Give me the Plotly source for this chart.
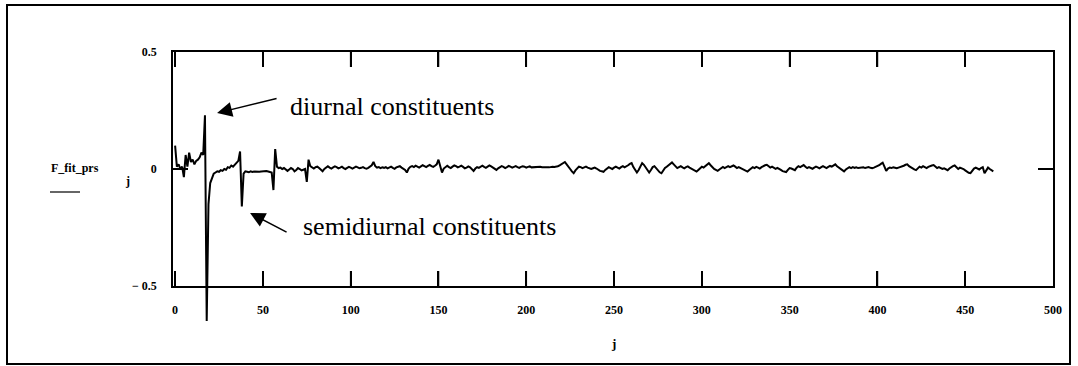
import plotly.graph_objects as go

# ---- data -------------------------------------------------------------
F_fit_prs = [
    # j 0-40
    0.100, 0.010, 0.020, 0.000, 0.010, -0.035, 0.060, 0.010, 0.070, 0.030,
    0.040, 0.020, 0.035, 0.040, 0.050, 0.070, 0.060, 0.230, -0.650, -0.150,
    -0.060, -0.035, -0.020, -0.015, -0.010, -0.012, -0.005, -0.008, 0.000, -0.003,
    0.008, 0.005, 0.015, 0.010, 0.020, 0.025, 0.035, 0.075, -0.160, -0.020,
    -0.010,
    # j 41-55
    -0.012, -0.014, -0.010, -0.013, -0.011, -0.012, -0.010, -0.012, -0.011, -0.010,
    -0.012, -0.009, -0.011, -0.013, -0.015,
    # j 56-57
    -0.090, 0.085,
    # j 58-74
    0.010, 0.004, 0.006, 0.000, 0.004, -0.004, -0.008, -0.002, 0.004, 0.000,
    -0.010, -0.004, 0.004, 0.000, -0.006, -0.003, 0.000,
    # j 75-76
    -0.055, 0.040,
    # j 77-466
    0.012, 0.006, 0.002, 0.008, 0.010, 0.004, -0.002, -0.010, 0.000, 0.008,
    0.012, 0.006, 0.002, 0.007, 0.011, 0.008, 0.003, 0.006, 0.010, 0.004,
    0.000, 0.005, 0.009, 0.006, 0.002, 0.006, 0.010, 0.007, 0.003, 0.005,
    0.008, 0.004, 0.001, 0.005, 0.010, 0.016, 0.030, 0.012, 0.006, 0.008,
    0.004, 0.007, 0.005, 0.008, 0.003, 0.006, 0.010, 0.005, 0.001, 0.007,
    0.010, 0.012, 0.006, 0.002, -0.004, -0.015, 0.002, 0.009, 0.012, 0.008,
    0.014, 0.010, 0.006, 0.011, 0.016, 0.012, 0.008, 0.013, 0.017, 0.012,
    0.009, 0.014, 0.020, 0.040, 0.005, -0.015, 0.002, 0.010, 0.014, 0.008,
    0.004, 0.010, 0.015, 0.012, 0.007, 0.010, 0.014, 0.009, 0.003, 0.006,
    0.011, 0.007, 0.000, -0.008, 0.002, 0.008, 0.005, 0.010, 0.014, 0.009,
    0.005, 0.010, 0.015, 0.011, 0.006, 0.002, -0.004, 0.003, 0.008, 0.012,
    0.009, 0.004, 0.008, 0.013, 0.010, 0.006, 0.009, 0.012, 0.008, 0.005,
    0.009, 0.012, 0.010, 0.006, 0.009, 0.011, 0.007, 0.008, 0.010, 0.008,
    0.009, 0.010, 0.008, 0.009, 0.010, 0.008, 0.007, 0.009, 0.010, 0.009,
    0.010, 0.012, 0.016, 0.022, 0.026, 0.030, 0.020, 0.008, 0.000, -0.010,
    -0.018, -0.006, 0.004, 0.010, 0.008, 0.004, 0.007, 0.010, 0.006, 0.002,
    0.000, 0.003, 0.006, 0.002, -0.004, -0.008, -0.010, -0.012, -0.004, 0.004,
    0.008, 0.004, 0.000, 0.006, 0.010, 0.006, 0.002, 0.008, 0.012, 0.007,
    0.010, 0.016, 0.022, 0.025, 0.008, -0.006, -0.015, -0.004, 0.012, 0.025,
    0.018, 0.006, -0.006, -0.015, -0.004, 0.008, 0.012, 0.004, -0.008, -0.014,
    -0.018, -0.006, 0.004, 0.010, 0.016, 0.022, 0.028, 0.020, 0.010, 0.004,
    0.008, 0.012, 0.007, 0.003, 0.008, 0.011, 0.006, 0.001, -0.004, -0.008,
    -0.011, -0.004, 0.004, 0.010, 0.006, 0.012, 0.018, 0.025, 0.016, 0.006,
    0.000, -0.004, -0.008, -0.002, 0.005, 0.009, 0.004, 0.008, 0.012, 0.008,
    0.012, 0.015, 0.010, 0.004, 0.008, 0.004, -0.002, -0.006, -0.008, -0.011,
    -0.004, 0.003, 0.008, 0.004, 0.009, 0.006, 0.002, 0.008, 0.013, 0.016,
    0.018, 0.012, 0.006, 0.010, 0.006, 0.001, 0.005, 0.002, -0.004, -0.009,
    -0.012, -0.013, -0.004, 0.004, 0.002, -0.002, -0.005, 0.006, 0.012, 0.008,
    0.014, 0.017, 0.010, 0.004, 0.008, 0.005, 0.001, 0.006, 0.010, 0.007,
    0.003, 0.008, 0.012, 0.008, 0.004, 0.009, 0.013, 0.010, 0.015, 0.020,
    0.012, 0.006, 0.000, -0.005, -0.010, -0.002, 0.004, 0.008, 0.004, 0.008,
    0.005, 0.007, 0.004, 0.006, 0.005, 0.007, 0.004, 0.006, 0.008, 0.005,
    0.003, 0.006, 0.009, 0.012, 0.016, 0.022, 0.027, 0.010, -0.008, 0.002,
    0.006, 0.004, 0.007, 0.005, 0.003, 0.006, 0.008, 0.010, 0.014, 0.018,
    0.020, 0.012, 0.006, 0.002, -0.002, -0.005, 0.003, 0.010, 0.006, 0.012,
    0.008, 0.004, 0.009, 0.013, 0.015, 0.017, 0.010, 0.004, 0.008, 0.003,
    0.000, 0.003, -0.002, -0.005, 0.002, 0.008, 0.012, 0.015, 0.006, 0.000,
    0.006, 0.004, 0.000, -0.006, -0.012, -0.016, -0.018, -0.008, 0.002, 0.006,
    0.002, -0.002, 0.004, 0.008, -0.018, -0.004, 0.006, 0.000, -0.006, -0.010,
]
j = list(range(len(F_fit_prs)))

x_range = [-1.2, 500]
x_tick_vals = [0, 50, 100, 150, 200, 250, 300, 350, 400, 450, 500]
x_tick_text = ["0", "50", "100", "150", "200", "250", "300", "350", "400", "450", "500"]
y_range = [-0.5, 0.5]
y_tick_vals = [-0.5, 0, 0.5]
y_tick_text = ["\u2212 0.5", "0", "0.5"]

# ---- layout geometry (pixels) -----------------------------------------
W, H = 1078, 366
L, R, T, B = 173, 25, 52, 36
pw, ph = W - L - R, H - T - B          # paper size
axis_bottom_px = 286                   # y pixel of the -0.5 axis line
main_dom0 = (H - B - axis_bottom_px) / ph
unit_px = (axis_bottom_px - T) / (y_range[1] - y_range[0])
y_low_ext = y_range[0] - (H - B - axis_bottom_px) / unit_px
TICK_LEN = 15

def px(xp):
    return (xp - L) / pw

def py(yp):
    return (H - B - yp) / ph

FONT = "Liberation Serif"

fig = go.Figure()
# data on a taller, axis-less subplot so the deep spike can run below the frame
fig.add_trace(go.Scatter(x=j, y=F_fit_prs, mode="lines",
                         line=dict(color="black", width=2),
                         xaxis="x", yaxis="y", showlegend=False,
                         hoverinfo="skip"))

axis_common = dict(showline=True, linecolor="black", linewidth=1.5,
                   mirror="ticks", ticks="inside", ticklen=TICK_LEN,
                   tickcolor="black", tickwidth=1.5, showgrid=False,
                   zeroline=False,
                   tickfont=dict(family=FONT, size=12, color="black"))

fig.update_layout(
    width=W, height=H,
    margin=dict(l=L, r=R, t=T, b=B, pad=0),
    paper_bgcolor="white", plot_bgcolor="rgba(0,0,0,0)",
    xaxis=dict(range=x_range, visible=False, anchor="y", domain=[0, 1]),
    yaxis=dict(range=[y_low_ext, y_range[1]], domain=[0, 1], visible=False, anchor="x"),
    xaxis2=dict(range=x_range, domain=[0, 1], anchor="y2",
                tickvals=x_tick_vals, ticktext=["<b>%s</b>" % t for t in x_tick_text],
                ticklabelstandoff=12, **axis_common),
    yaxis2=dict(range=y_range, domain=[main_dom0, 1], anchor="x2",
                tickvals=y_tick_vals, ticktext=["<b>%s</b>" % t for t in y_tick_text],
                ticklabelstandoff=12, **axis_common),
)
# helper so the framed axes are drawn
fig.add_trace(go.Scatter(x=[x_range[0]], y=[0], mode="markers",
                         marker=dict(opacity=0), showlegend=False,
                         xaxis="x2", yaxis="y2", hoverinfo="skip"))

ann = []
# y-axis label
ann.append(dict(text="<b>F_fit_prs</b>", x=px(49), y=py(168), xref="paper", yref="paper",
                xanchor="left", yanchor="middle", showarrow=False,
                font=dict(family=FONT, size=12, color="black")))
ann.append(dict(text="<b>j</b>", x=px(127), y=py(181), xref="paper", yref="paper",
                xanchor="center", yanchor="middle", showarrow=False,
                font=dict(family=FONT, size=12, color="black")))
# x-axis label
ann.append(dict(text="<b>j</b>", x=0.5, y=py(343), xref="paper", yref="paper",
                xanchor="center", yanchor="middle", showarrow=False,
                font=dict(family=FONT, size=13, color="black")))
# texts
ann.append(dict(text="diurnal constituents", x=px(288), y=py(106), xref="paper", yref="paper",
                xanchor="left", yanchor="middle", showarrow=False,
                font=dict(family=FONT, size=26, color="black")))
ann.append(dict(text="semidiurnal constituents", x=px(301), y=py(226), xref="paper", yref="paper",
                xanchor="left", yanchor="middle", showarrow=False,
                font=dict(family=FONT, size=26, color="black")))
# arrows
ann.append(dict(text="", x=23.9, y=0.239, xref="x", yref="y", ax=61, ay=-15,
                showarrow=True, arrowhead=2, arrowsize=2, arrowwidth=1.5,
                arrowcolor="black"))
ann.append(dict(text="", x=42.7, y=-0.188, xref="x", yref="y", ax=38, ay=20,
                showarrow=True, arrowhead=2, arrowsize=2, arrowwidth=1.5,
                arrowcolor="black"))
fig.update_layout(annotations=ann)

shapes = [
    # outer frame
    dict(type="rect", xref="paper", yref="paper", x0=px(7), x1=px(1070),
         y0=py(364), y1=py(5), line=dict(color="black", width=2)),
    # underline under the y label
    dict(type="line", xref="paper", yref="paper", x0=px(50), x1=px(80),
         y0=py(192), y1=py(192), line=dict(color="black", width=1.2)),
]
# inside x tick marks on the frame (top and bottom), at the tick values
span = x_range[1] - x_range[0]
bot = py(axis_bottom_px)
top = py(T)
tl = TICK_LEN / ph
for tv in x_tick_vals[1:-1]:
    xp = (tv - x_range[0]) / span
    shapes.append(dict(type="line", xref="paper", yref="paper", x0=xp, x1=xp,
                       y0=bot, y1=bot + tl, line=dict(color="black", width=1.6)))
    shapes.append(dict(type="line", xref="paper", yref="paper", x0=xp, x1=xp,
                       y0=top - tl, y1=top, line=dict(color="black", width=1.6)))
fig.update_layout(shapes=shapes)

fig.write_html("out.html")
